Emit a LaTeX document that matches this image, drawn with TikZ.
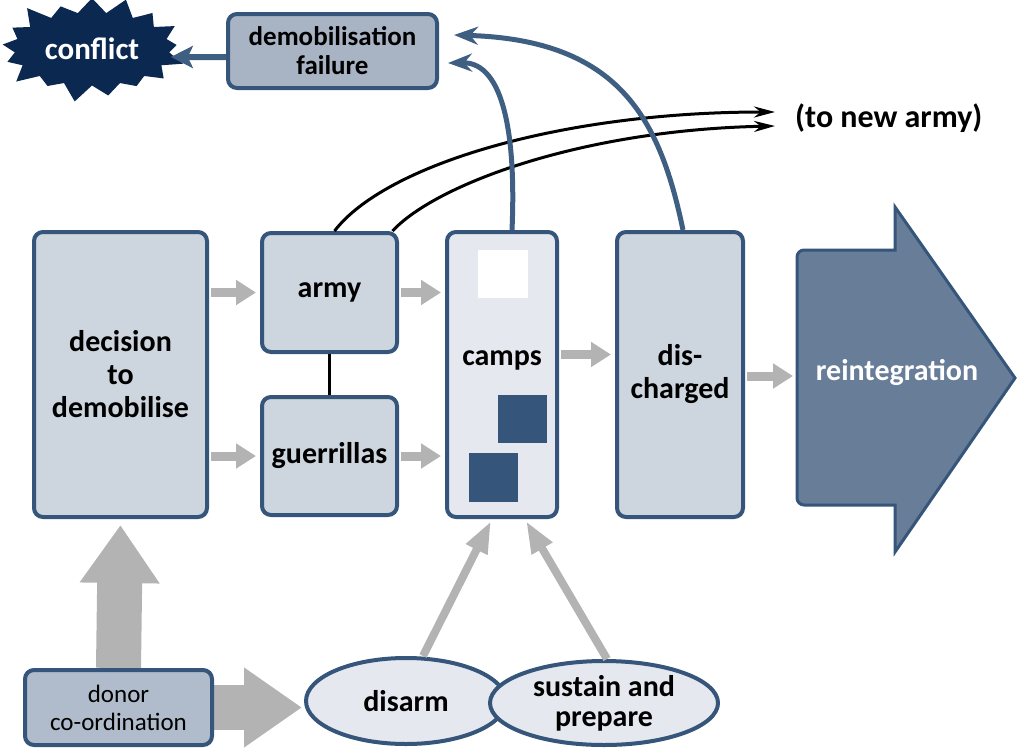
\documentclass[tikz,border=0pt]{standalone}
\usepackage{fontspec}
\setmainfont{Carlito}
\usetikzlibrary{calc}
\usetikzlibrary{arrows.meta}
\usetikzlibrary{shapes.geometric,shapes.symbols}
\usetikzlibrary{backgrounds}
\usepackage{xcolor}
\definecolor{bordblue}{RGB}{53,85,122}
\definecolor{failfill}{RGB}{168,180,196}
\definecolor{boxfill}{RGB}{205,213,222}
\definecolor{palefill}{RGB}{229,232,238}
\definecolor{donorfill}{RGB}{176,188,203}
\definecolor{reintfill}{RGB}{104,125,152}
\definecolor{conflictblue}{RGB}{10,40,80}
\definecolor{flowgrey}{RGB}{179,179,179}
\definecolor{curveblue}{RGB}{63,95,130}
\tikzset{
  box/.style={draw=bordblue, line width=4pt, rounded corners=9pt, align=center,
    inner sep=0pt, font=\bfseries\fontsize{30}{33}\selectfont},
  oval/.style={ellipse, draw=bordblue, line width=4pt, fill=palefill, align=center,
    inner sep=0pt, font=\bfseries\fontsize{30}{30}\selectfont},
  greyarr/.style={flowgrey, line width=9pt, -{Triangle[length=20pt,width=24pt]}},
  slantarr/.style={flowgrey, line width=8pt, -{Triangle[length=32pt,width=22pt]}},
  bigarr/.style={flowgrey, line width=45pt, -{Triangle[length=58pt,width=76pt]}},
  bluearr/.style={curveblue, line width=5pt, -{Stealth[length=24pt,width=18pt]}},
  blackarr/.style={black, line width=3pt, -{Stealth[length=21pt,width=11pt]}}
}
\begin{document}
\begin{tikzpicture}[x=1pt,y=-1pt]
\useasboundingbox (0,0) rectangle (1017,747);

\node[box, fill=boxfill, minimum width=173pt, minimum height=285pt] (dec) at (120.5,374.5) {decision\\to\\demobilise};
\node[box, fill=boxfill, minimum width=135pt, minimum height=119pt] (army) at (329.5,292.5) {army};
\node[box, fill=boxfill, minimum width=135pt, minimum height=118pt] (guer) at (329.5,456) {guerrillas};
\node[box, fill=palefill, minimum width=110pt, minimum height=285pt] (camps) at (502,374.5) {};
\node[font=\bfseries\fontsize{30}{33}\selectfont] (campstext) at (502,360) {camps};
\node[box, fill=boxfill, minimum width=126pt, minimum height=285pt] (disc) at (680,374.5) {dis-\\charged};
\node[box, fill=failfill, minimum width=209pt, minimum height=74pt, font=\bfseries\fontsize{27}{29}\selectfont] (fail) at (332.5,51) {demobilisation\\failure};
\node[starburst, starburst points=17, starburst point height=20pt, fill=conflictblue,
  minimum width=195pt, minimum height=113pt, inner sep=0pt, text=white,
  font=\bfseries\fontsize{31}{34}\selectfont] (conflict) at (92,49) {conflict};
\node[anchor=west, inner sep=0pt, font=\bfseries\fontsize{32}{34}\selectfont] (newarmy) at (795,118) {(to new army)};

\fill[white] (478,250) rectangle (528,298);
\fill[bordblue] (498,395) rectangle (547,443);
\fill[bordblue] (469,453) rectangle (518,502);

\draw[bordblue, line width=3pt, fill=reintfill] (846,250) -- (895,250) -- (895,207) -- (1015,378)
  -- (895,552) -- (895,505) -- (846,505) [rounded corners=7pt] -- (797,505) -- (797,250) -- cycle;
\node[text=white, font=\bfseries\fontsize{30}{33}\selectfont] (reint) at (897,372) {reintegration};
\coordinate (reintw) at (797,376);

\node[box, fill=donorfill, minimum width=187pt, minimum height=75pt, font=\fontsize{25}{28}\selectfont] (donor) at (118.5,707.5) {donor\\co-ordination};
\begin{scope}[on background layer]
\draw[bigarr, shorten >=6pt] (donor.north) -- (dec.south);
\draw[bigarr] (donor.east) -- ++(88,0) coordinate (donortip);
\end{scope}

\node[oval, minimum width=200pt, minimum height=86pt] (disarm) at (406,701) {disarm};
\node[oval, minimum width=228pt, minimum height=84pt] (sustain) at (604,703) {sustain and\\prepare};

\foreach \a/\b in {army/dec, guer/dec}
  \draw[greyarr, shorten >=4pt, shorten <=2pt] (\b.east |- \a.west) -- (\a.west);
\foreach \a in {army, guer}
  \draw[greyarr, shorten >=4pt, shorten <=2pt] (\a.east) -- (camps.west |- \a.east);
\draw[greyarr, shorten >=4pt, shorten <=2pt] ($(camps.east)+(0,-20)$) -- ($(disc.west)+(0,-20)$);
\draw[greyarr, shorten >=4pt, shorten <=2pt] (disc.east |- reintw) -- (reintw);

\draw[slantarr] ($(disarm.north)+(17,0)$) -- ($(camps.south)+(-11,2)$);
\draw[slantarr] ($(sustain.north)+(3,0)$) -- ($(camps.south)+(24,2)$);

\draw[black, line width=3pt] (army.south) -- (guer.north);

\draw[blackarr] ($(army.north)+(5,0)$) .. controls (385,165) and (560,112) .. ($(newarmy.west)+(-20,-6)$);
\draw[blackarr] ($(army.north)+(63,0)$) .. controls (435,185) and (580,130) .. ($(newarmy.west)+(-20,8)$);

\draw[bluearr] ($(camps.north)+(10,0)$) .. controls (516,140) and (505,62) .. ($(fail.east)+(9,12)$);
\draw[bluearr] ($(disc.north)+(3,0)$) .. controls (660,120) and (620,40) .. ($(fail.east)+(15,-16)$);

\draw[curveblue, line width=6pt, -{Stealth[length=22pt,width=22pt,inset=5pt]}] ($(fail.west)+(0,6)$) -- ($(conflict.east)+(-2,8)$);
\end{tikzpicture}
\end{document}
